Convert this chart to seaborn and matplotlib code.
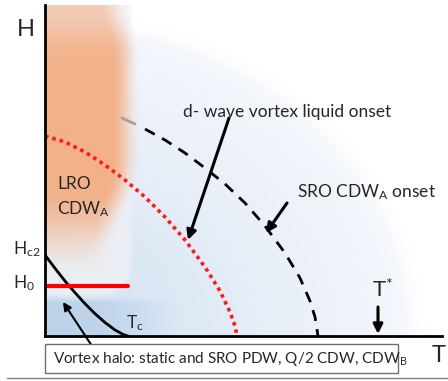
import numpy as np
import matplotlib
matplotlib.use("Agg")
import matplotlib.pyplot as plt
import seaborn as sns
from matplotlib.patches import Rectangle
from matplotlib.lines import Line2D

# ---- data (schematic coordinates) ----
tc_T = [0, 10, 20, 30, 40, 50, 60, 70, 78, 83]
tc_H = [81, 67.7, 55, 43.3, 32.3, 22.3, 13.5, 6.0, 1.6, 0]

vl_T = [0, 20, 40, 60, 80, 100, 120, 140, 160, 175, 185, 190, 192]
vl_H = [200, 194, 184, 171, 156, 139, 119, 96, 69, 45, 24, 10, 0]

sro_T = [77, 90, 100, 120, 140, 160, 180, 200, 220, 240, 255, 265, 270, 273]
sro_H = [218, 212, 207, 196, 183, 168, 152, 133, 110, 83, 58, 35, 19, 0]

h0_T = [0, 83]
h0_H = [50, 50]

TMAX, HMAX = 397, 331

sns.set_theme(style="white")
plt.rcParams["font.family"] = ["Lato", "DejaVu Sans"]
plt.rcParams["mathtext.fontset"] = "custom"
plt.rcParams["mathtext.rm"] = "Lato"
plt.rcParams["mathtext.it"] = "Lato:italic"

fig = plt.figure(figsize=(4.48, 3.81), dpi=100)
ax = fig.add_axes([45/448, 45/381, 397/448, 331/381])
ax.set_xlim(0, TMAX)
ax.set_ylim(0, HMAX)

# ---- background shading ----
def smooth(a, b, x):
    t = np.clip((x - a) / (b - a), 0, 1)
    return t * t * (3 - 2 * t)

T, H = np.meshgrid(np.arange(TMAX) + 0.5, np.arange(HMAX) + 0.5)
img = np.ones((HMAX, TMAX, 3))

r = np.sqrt((T / 380) ** 2 + (H / 325) ** 2)
ba = 1 - smooth(0.93, 1.0, r)
inner = np.array([198, 218, 238]) / 255
outer = np.array([246, 248, 252]) / 255
m = np.clip(r, 0, 1)[..., None] ** 0.7
bcol = inner * (1 - m) + outer * m
img = img * (1 - ba[..., None]) + bcol * ba[..., None]

ha = 0.7 * (1 - smooth(32, 40, H)) * (1 - smooth(40, 150, T))
hcol = np.array([182, 206, 232]) / 255
img = img * (1 - ha[..., None]) + hcol * ha[..., None]

dx = np.maximum(T - 55, 0)
dy = np.maximum(70 - H, 0)
d = np.sqrt(dx ** 2 + dy ** 2) - 32
pa = 0.8 * (1 - smooth(-6, 3, d))
pcol = np.array([240, 241, 246]) / 255
img = img * (1 - pa[..., None]) + pcol * pa[..., None]

edge = 81 - 28 * (1 - smooth(70, 175, H)) - 12 * smooth(285, 331, H)
oa = (1 - smooth(edge - 15, edge + 15, T)) * smooth(55, 150, H) \
    * (1 - 0.4 * smooth(270, 331, H))
ocol = np.array([243, 177, 138]) / 255
img = img * (1 - oa[..., None]) + ocol * oa[..., None]

ax.imshow(img, extent=(0, TMAX, 0, HMAX), origin="lower", aspect="auto",
          interpolation="bilinear", zorder=0)

# ---- curves ----
sns.lineplot(x=vl_T, y=vl_H, ax=ax, sort=False, estimator=None, color="#ff1a1a",
             lw=2.6, linestyle=(0, (1, 1.1)), zorder=3)
sns.lineplot(x=sro_T[:2], y=sro_H[:2], ax=ax, sort=False, estimator=None,
             color="#a0a0a0", lw=2, zorder=3)
sns.lineplot(x=sro_T[2:], y=sro_H[2:], ax=ax, sort=False, estimator=None,
             color="black", lw=2, linestyle=(0, (4, 3)), zorder=3)
sns.lineplot(x=tc_T, y=tc_H, ax=ax, sort=False, estimator=None, color="black",
             lw=2, zorder=4)
sns.lineplot(x=h0_T, y=h0_H, ax=ax, sort=False, estimator=None, color="#ff0000",
             lw=3, zorder=4)

# ---- spines ----
for s in ["top", "right"]:
    ax.spines[s].set_visible(False)
for s in ["left", "bottom"]:
    ax.spines[s].set_color("black")
    ax.spines[s].set_linewidth(2)
    ax.spines[s].set_zorder(5)
ax.set_xticks([])
ax.set_yticks([])
ax.set_xlabel("")
ax.set_ylabel("")

# ---- arrows ----
ap = dict(arrowstyle="-|>", lw=2.2, color="black", mutation_scale=14,
          shrinkA=0, shrinkB=0)
ax.annotate("", xy=(143, 96), xytext=(184, 218), arrowprops=ap, zorder=6)
ax.annotate("", xy=(221, 103), xytext=(242, 133), arrowprops=ap, zorder=6)
ax.annotate("", xy=(333, 2), xytext=(333, 29), arrowprops=ap, zorder=6)
ap2 = dict(arrowstyle="-|>", lw=1.5, color="black", mutation_scale=12,
           shrinkA=0, shrinkB=0)
ax.annotate("", xy=(18, 34), xytext=(47, -10), arrowprops=ap2,
            annotation_clip=False, zorder=6)

# ---- texts ----
fs = 12.5
ax.text(12, 152, "LRO", fontsize=fs, ha="left", va="center", zorder=7)
ax.text(12, 127, r"CDW$_\mathrm{A}$", fontsize=fs, ha="left", va="center", zorder=7)
ax.text(-32, 87, r"H$_\mathrm{c2}$", fontsize=fs, ha="left", va="center",
        clip_on=False)
ax.text(-32, 53, r"H$_\mathrm{0}$", fontsize=fs, ha="left", va="center",
        clip_on=False)
ax.text(81, 13, r"T$_\mathrm{c}$", fontsize=fs, ha="left", va="center", zorder=7)
ax.text(138, 224, "d- wave vortex liquid onset", fontsize=fs, ha="left",
        va="center", zorder=7)
ax.text(252, 144, r"SRO CDW$_\mathrm{A}$ onset", fontsize=fs, ha="left",
        va="center", zorder=7)
ax.text(327, 46, r"T$^\mathrm{*}$", fontsize=16, ha="left", va="center", zorder=7)

fig.text(17/448, 1 - 29/381, "H", fontsize=17, ha="left", va="center")
fig.text(432/448, 1 - 355/381, "T", fontsize=17, ha="left", va="center")

ax.add_patch(Rectangle((0, -37), 353, 29, facecolor="white", edgecolor="#707070",
                       lw=1, clip_on=False, zorder=6))
ax.text(8, -22.5, r"Vortex halo: static and SRO PDW, Q/2 CDW, CDW$_\mathrm{B}$",
        fontsize=11, ha="left", va="center", clip_on=False, zorder=7)

fig.add_artist(Line2D([7/448, 1], [1 - 378/381, 1 - 378/381], color="#808080",
                      lw=1))

fig.savefig("out.png", dpi=100)
